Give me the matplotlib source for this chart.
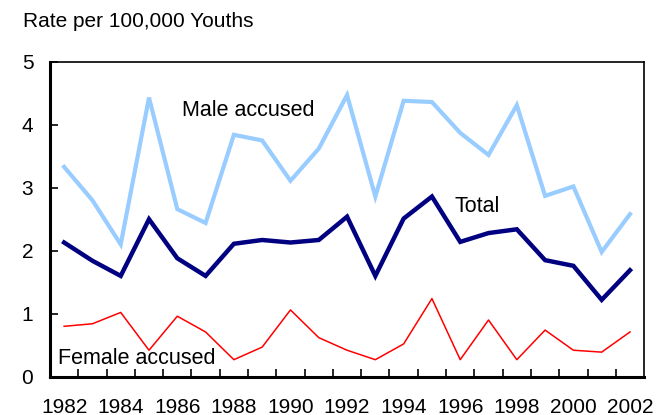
import matplotlib
matplotlib.use("Agg")
import matplotlib.pyplot as plt
import numpy as np

years = list(range(1982, 2003))
male = [3.33, 2.80, 2.10, 4.43, 2.66, 2.44, 3.84, 3.75, 3.11, 3.62, 4.47,
        2.86, 4.38, 4.36, 3.87, 3.52, 4.31, 2.87, 3.02, 1.98, 2.58]
total = [2.13, 1.84, 1.60, 2.50, 1.88, 1.60, 2.11, 2.17, 2.13, 2.17, 2.54,
         1.60, 2.51, 2.86, 2.14, 2.28, 2.34, 1.85, 1.76, 1.22, 1.69]
female = [0.80, 0.84, 1.02, 0.42, 0.96, 0.71, 0.27, 0.47, 1.06, 0.62, 0.42,
          0.27, 0.52, 1.24, 0.27, 0.90, 0.27, 0.74, 0.42, 0.39, 0.71]
tick_labels = [str(y) for y in years[::2]]

plt.rcParams['font.family'] = ['Liberation Sans', 'DejaVu Sans']
fig = plt.figure(figsize=(6.62, 4.15), dpi=100)
ax = fig.add_axes([0.0755, 0.0923, 0.8975, 0.759])

x = np.arange(len(years))
ax.plot(x, male, color='#99CCFF', lw=3.0, solid_joinstyle='miter')
ax.plot(x, total, color='#000080', lw=3.2, solid_joinstyle='miter')
ax.plot(x, female, color='#FF0000', lw=1.1)

ax.set_xlim(-0.5, len(years) - 0.5)
ax.set_ylim(0, 5)
ax.set_yticks([0, 1, 2, 3, 4, 5])
ax.set_xticks(x[::2])
ax.set_xticklabels(tick_labels)
ax.set_xticks(np.arange(0.5, len(years) - 1, 1.0), minor=True)
ax.tick_params(axis='x', which='major', length=0, pad=15, labelsize=15)
ax.tick_params(axis='x', which='minor', direction='in', length=6, width=1.2)
ax.tick_params(axis='y', direction='in', length=6, width=1.2, pad=12, labelsize=15)

for s in ['left', 'bottom']:
    ax.spines[s].set_linewidth(2.2)
for s in ['top', 'right']:
    ax.spines[s].set_linewidth(1.2)

ax.text(4.16, 4.23, 'Male accused', fontsize=15.5, va='center', ha='left')
ax.text(13.81, 2.70, 'Total', fontsize=15.5, va='center', ha='left')
ax.text(-0.23, 0.29, 'Female accused', fontsize=15.5, va='center', ha='left')

fig.text(23 / 662, 1 - 21.7 / 415, 'Rate per 100,000 Youths', fontsize=15,
         va='center', ha='left')

fig.savefig('out.png', dpi=100)
